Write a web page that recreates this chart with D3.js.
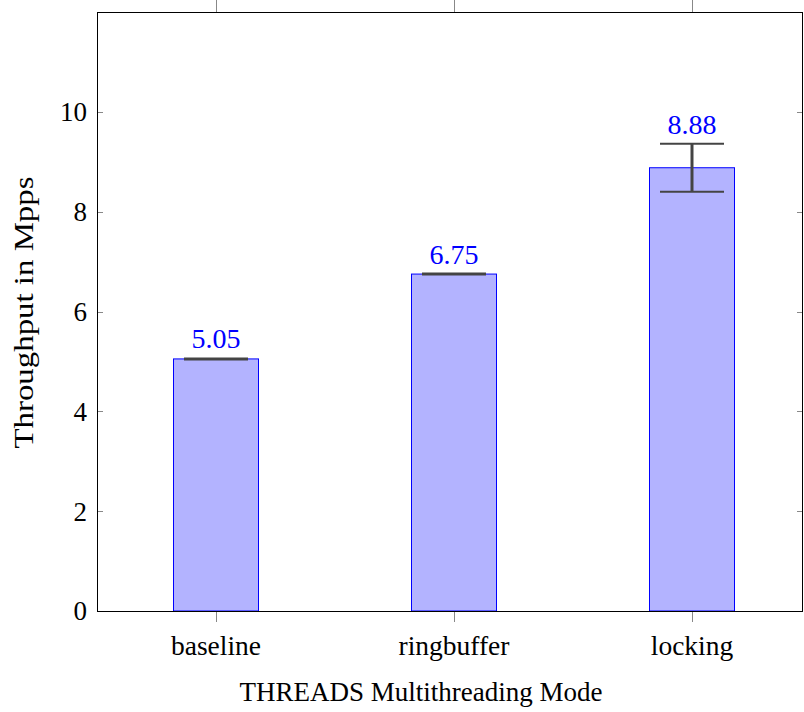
<!DOCTYPE html>
<html>
<head>
<meta charset="utf-8">
<script src="https://cdn.jsdelivr.net/npm/d3@7"></script>
<style>
  body { margin: 0; background: #fff; }
  svg { display: block; }
  text { font-family: "Liberation Serif", "DejaVu Serif", serif; }
</style>
</head>
<body>
<svg id="chart" width="804" height="712"></svg>
<script>
// Throughput per multithreading mode
const modes = ["baseline", "ringbuffer", "locking"];
const throughput = [5.05, 6.75, 8.88];
const errors = [0.01, 0.01, 0.48];
const yTicks = [0, 2, 4, 6, 8, 10];

const svg = d3.select("#chart");
const margin = { left: 97, right: 1, top: 12, bottom: 101 };
const W = 804, H = 712;
const x0 = margin.left, x1 = W - margin.right;
const y0 = H - margin.bottom, y1 = margin.top;

const x = d3.scalePoint().domain(modes).range([216, 692]);
const y = d3.scaleLinear().domain([0, 12]).range([y0, y1]);
const barW = 85;

// bars
svg.append("g").selectAll("rect").data(modes).join("rect")
  .attr("x", d => x(d) - barW / 2)
  .attr("y", (d, i) => y(throughput[i]))
  .attr("width", barW)
  .attr("height", (d, i) => y(0) - y(throughput[i]))
  .attr("fill", "#b3b3ff")
  .attr("stroke", "#0000ff")
  .attr("stroke-width", 1);

// error bars
const eg = svg.append("g").attr("stroke", "#444");
modes.forEach((m, i) => {
  const cx = x(m);
  const lo = y(throughput[i] - errors[i]), hi = y(throughput[i] + errors[i]);
  eg.append("line").attr("x1", cx).attr("x2", cx).attr("y1", lo).attr("y2", hi).attr("stroke-width", 3);
  eg.append("line").attr("x1", cx - 32).attr("x2", cx + 32).attr("y1", lo).attr("y2", lo).attr("stroke-width", 2);
  eg.append("line").attr("x1", cx - 32).attr("x2", cx + 32).attr("y1", hi).attr("y2", hi).attr("stroke-width", 2);
});

// value labels
svg.append("g").selectAll("text").data(modes).join("text")
  .attr("x", d => x(d))
  .attr("y", (d, i) => y(throughput[i] + errors[i]) - 10)
  .attr("text-anchor", "middle")
  .attr("fill", "#0000ff")
  .attr("font-size", 28)
  .text((d, i) => throughput[i].toFixed(2));

// ticks
const tg = svg.append("g").attr("stroke", "#888").attr("stroke-width", 1);
yTicks.forEach(t => {
  if (t === 0) return;
  const yy = Math.round(y(t)) + 0.5;
  tg.append("line").attr("x1", x0).attr("x2", x0 + 6).attr("y1", yy).attr("y2", yy);
  tg.append("line").attr("x1", x1 - 6).attr("x2", x1).attr("y1", yy).attr("y2", yy);
});
modes.forEach(m => {
  const xx = Math.round(x(m)) + 0.5;
  tg.append("line").attr("x1", xx).attr("x2", xx).attr("y1", y0).attr("y2", y0 + 11);
  tg.append("line").attr("x1", xx).attr("x2", xx).attr("y1", 0).attr("y2", y1);
});

// frame
svg.append("rect")
  .attr("x", x0 + 0.5).attr("y", y1 + 0.5)
  .attr("width", x1 - x0 - 1).attr("height", y0 - y1)
  .attr("fill", "none").attr("stroke", "#000").attr("stroke-width", 1);

// y tick labels
svg.append("g").selectAll("text").data(yTicks).join("text")
  .attr("x", 87)
  .attr("y", d => y(d))
  .attr("dy", "0.35em")
  .attr("text-anchor", "end")
  .attr("font-size", 27)
  .text(d => d);

// x tick labels
svg.append("g").selectAll("text").data(modes).join("text")
  .attr("x", d => x(d))
  .attr("y", 655)
  .attr("text-anchor", "middle")
  .attr("font-size", 27.5)
  .text(d => d);

// axis titles
svg.append("text")
  .attr("x", 421)
  .attr("y", 701)
  .attr("text-anchor", "middle")
  .attr("font-size", 27)
  .text("THREADS Multithreading Mode");

svg.append("text")
  .attr("transform", `translate(33, 312.5) rotate(-90)`)
  .attr("text-anchor", "middle")
  .attr("font-size", 28)
  .attr("textLength", 272)
  .attr("lengthAdjust", "spacingAndGlyphs")
  .text("Throughput in Mpps");
</script>
</body>
</html>
